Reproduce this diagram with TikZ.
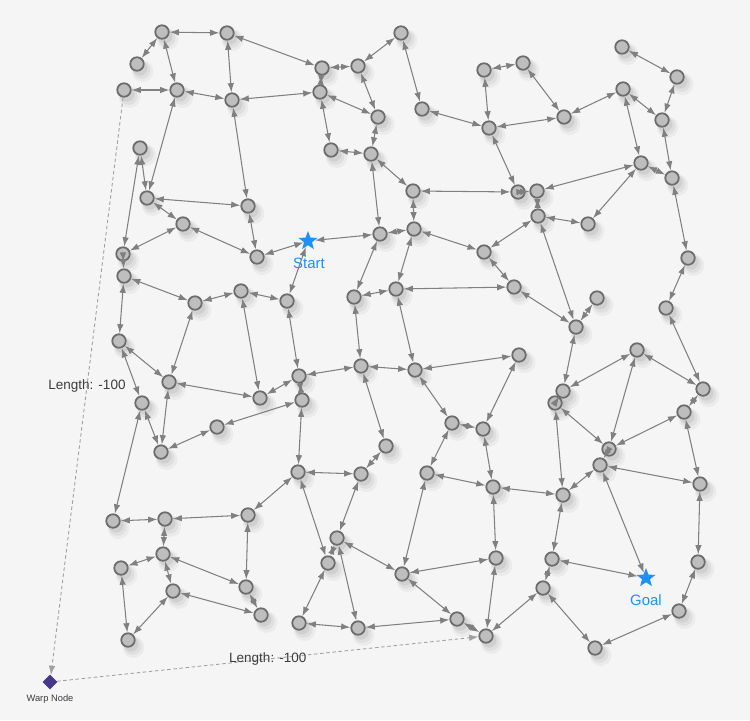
\documentclass[tikz,border=0pt]{standalone}
\usepackage{fontspec}
\setmainfont{Liberation Sans}
\usetikzlibrary{arrows.meta,shapes.geometric,shadows}
\definecolor{paper}{RGB}{245,245,245}
\definecolor{wire}{RGB}{128,128,128}
\definecolor{stone}{RGB}{190,190,190}
\definecolor{rim}{RGB}{108,108,108}
\definecolor{sky}{RGB}{30,144,255}
\definecolor{indigo}{RGB}{70,54,140}
\definecolor{ink}{RGB}{60,60,60}
\tikzset{
  >={Latex[length=1.85mm,width=1.3mm]},
  soft shadow/.style={
    drop shadow={opacity=0.08,shadow xshift=0.07cm,shadow yshift=-0.09cm,shadow scale=1.6},
    drop shadow={opacity=0.11,shadow xshift=0.07cm,shadow yshift=-0.09cm,shadow scale=1.32},
    drop shadow={opacity=0.15,shadow xshift=0.06cm,shadow yshift=-0.08cm,shadow scale=1.08}},
  waypoint/.style={circle,draw=rim,fill=stone,line width=1pt,minimum size=0.27cm,inner sep=0pt,
    soft shadow},
  goal star/.style={star,star points=5,star point ratio=2.4,fill=sky,minimum size=0.4cm,inner sep=0pt},
  warp/.style={diamond,fill=indigo,inner sep=0pt,minimum width=0.3cm,minimum height=0.3cm},
  link/.style={<->,draw=wire,line width=0.6pt},
  warp link/.style={->,draw=wire!75,line width=0.5pt,dash pattern=on 2pt off 1.5pt},
  tag/.style={font=\fontsize{7.7}{9}\selectfont,text=ink},
  star tag/.style={font=\fontsize{8.5}{10}\selectfont,text=sky},
}

\begin{document}
\begin{tikzpicture}[x=0.02cm,y=-0.02cm]
  \fill[paper] (0,0) rectangle (750,720);
  \useasboundingbox (0,0) rectangle (750,720);
  % waypoints
  \foreach \n/\x/\y in {v1/162/32, v2/227/33, v3/137/64, v4/124/90, v5/177/90, v6/232/100,
      v7/140/148, v8/147/198, v9/248/206, v10/183/224, v11/322/68, v12/358/66, v13/401/33,
      v14/320/92, v15/378/117, v16/331/150, v17/371/154, v18/422/109, v19/413/191, v20/489/128,
      v21/484/70, v22/523/63, v23/622/47, v24/677/77, v25/623/89, v26/564/117, v27/662/120,
      v28/641/163, v29/672/178, v30/518/192, v31/537/191, v32/538/216, v33/588/224, v34/688/258,
      v35/123/254, v36/124/276, v37/257/257, v38/195/303, v39/241/291, v40/287/301, v41/119/341,
      v42/169/382, v43/260/398, v44/299/376, v45/302/400, v46/142/403, v47/217/427, v48/161/452,
      v49/380/234, v50/414/229, v51/484/252, v52/514/287, v53/354/297, v54/396/289, v55/361/366,
      v56/415/370, v57/519/355, v58/452/423, v59/483/429, v60/386/446, v61/576/327, v62/597/298,
      v63/666/308, v64/637/350, v65/703/389, v66/563/391, v67/555/403, v68/684/412, v69/609/449,
      v70/600/465, v71/700/484, v72/563/495, v73/552/559, v74/698/562, v75/543/588, v76/679/611,
      v77/595/648, v78/298/472, v79/361/474, v80/427/473, v81/493/487, v82/337/538, v83/328/563,
      v84/402/574, v85/496/558, v86/457/619, v87/486/636, v88/358/628, v89/299/623, v90/113/521,
      v91/165/519, v92/248/515, v93/163/554, v94/121/568, v95/173/591, v96/246/587, v97/261/615,
      v98/128/640}
    \node[waypoint] (\n) at (\x,\y) {};
  \node[goal star] (start) at (308,241) {};
  \node[star tag] at (309,263) {Start};
  \node[goal star] (goal) at (646,578) {};
  \node[star tag] at (646,600) {Goal};
  \node[warp] (warpnode) at (50,682) {};
  \node[font=\fontsize{5.3}{6}\selectfont,text=ink] at (50,699) {Warp Node};
  % connections
  \foreach \a/\b in {v1/v2, v1/v3, v1/v5, v2/v6, v2/v11, v4/v5, v5/v6, v6/v14, v6/v9, v5/v8,
      v7/v8, v8/v9, v8/v10, v7/v35, v11/v12, v12/v13, v11/v14, v14/v15, v12/v15, v14/v16,
      v16/v17, v15/v17, v13/v18, v18/v20, v21/v20, v21/v22, v20/v26, v17/v19, v19/v30, v20/v30,
      v19/v50, v17/v49, v22/v26, v26/v25, v23/v24, v25/v27, v24/v27, v25/v28, v27/v29, v28/v29,
      v28/v31, v28/v33, v30/v31, v31/v32, v32/v33, v51/v32, v32/v61, v29/v34, v34/v63, v63/v65,
      v62/v61, v52/v61, v61/v66, v64/v66, v64/v65, v64/v69, v67/v69, v66/v67, v68/v65, v68/v69,
      v68/v71, v67/v72, v69/v70, v70/v72, v70/v71, v70/goal, v81/v72, v72/v73, v73/goal, v73/v75,
      v75/v77, v71/v74, v74/v76, v76/v77, v75/v87, v60/v79, v78/v79, v58/v80, v80/v81, v59/v81,
      v79/v82, v78/v83, v82/v83, v82/v84, v82/v88, v80/v84, v84/v85, v81/v85, v84/v86, v86/v87,
      v85/v87, v83/v89, v89/v88, v88/v86, v45/v78, v78/v92, v46/v90, v90/v91, v91/v92, v91/v93,
      v93/v94, v93/v95, v93/v96, v92/v96, v96/v97, v95/v97, v94/v98, v95/v98, v10/v35, v10/v37,
      v9/v37, v37/start, v35/v36, v36/v38, v36/v41, v38/v39, v39/v40, v38/v42, v39/v43, v41/v42,
      v41/v46, v42/v43, v43/v44, v40/v44, v44/v45, v44/v55, v45/v47, v46/v48, v47/v48, v42/v48,
      start/v49, start/v40, v49/v50, v50/v51, v51/v52, v49/v53, v50/v54, v53/v54, v54/v52,
      v53/v55, v54/v56, v55/v56, v56/v57, v55/v60, v56/v58, v57/v59, v58/v59}
    \draw[link] (\a) -- (\b);
  % warp shortcut
  \draw[warp link] (v4) -- node[tag] {Length: -100} (warpnode);
  \draw[warp link] (warpnode) -- node[tag] {Length: -100} (v87);
\end{tikzpicture}
\end{document}
